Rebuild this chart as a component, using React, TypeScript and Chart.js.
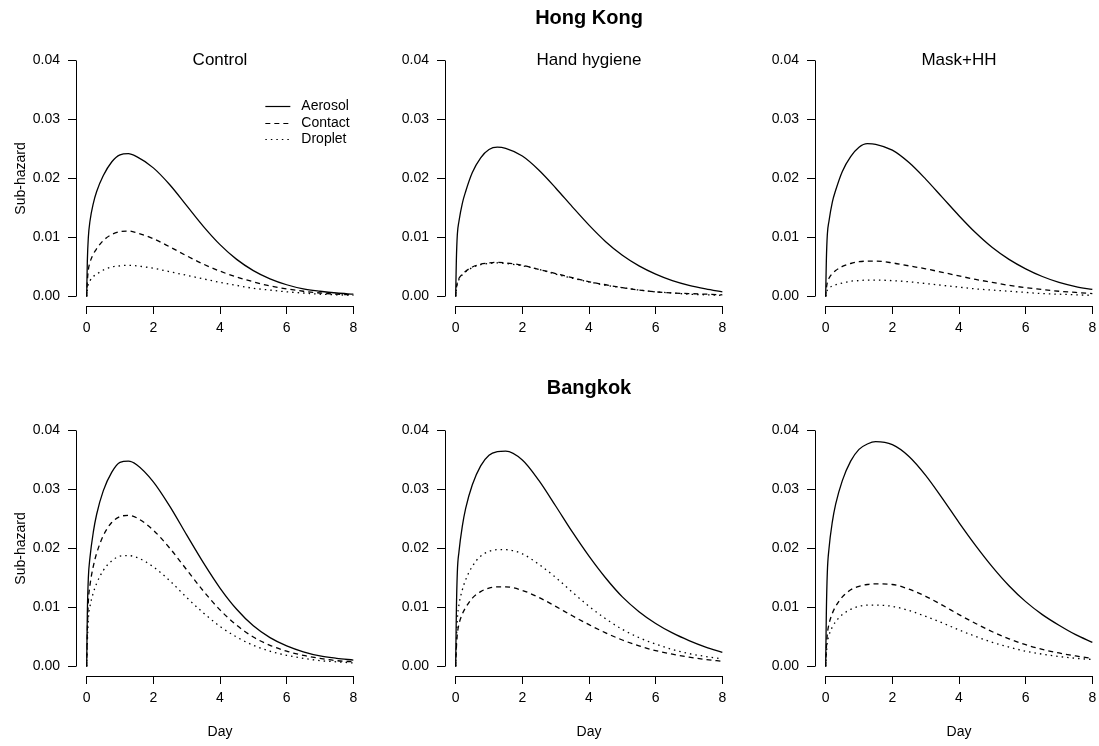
import React, { useEffect, useRef } from "react";
import { Chart, registerables } from "chart.js";

Chart.register(...registerables);

// ---------- data ----------
const days = [0, 0.02, 0.05, 0.1, 0.2, 0.3, 0.5, 0.75, 1, 1.25, 1.5, 2, 2.5, 3, 3.5, 4, 4.5, 5, 5.5, 6, 6.5, 7, 7.5, 8];
const xTicks = [0, 2, 4, 6, 8];
const yTicks = [0, 0.01, 0.02, 0.03, 0.04];
const cities = ["Hong Kong", "Bangkok"];
const arms = ["Control", "Hand hygiene", "Mask+HH"];
const routes = ["Aerosol", "Contact", "Droplet"];

// Hong Kong
const hkControlAerosol = [0, 0.006, 0.01, 0.0128, 0.0158, 0.0178, 0.0205, 0.0228, 0.024, 0.0242, 0.0237, 0.0218, 0.0189, 0.0154, 0.0119, 0.0088, 0.0063, 0.0044, 0.003, 0.002, 0.0013, 0.0009, 0.0006, 0.0004];
const hkControlContact = [0, 0.0025, 0.0045, 0.0058, 0.0072, 0.0081, 0.0095, 0.0105, 0.011, 0.0111, 0.0108, 0.0098, 0.0084, 0.0069, 0.0055, 0.0043, 0.0033, 0.0025, 0.0018, 0.0013, 0.0009, 0.0006, 0.0004, 0.0003];
const hkControlDroplet = [0, 0.0012, 0.0021, 0.0027, 0.0034, 0.0038, 0.0045, 0.005, 0.0052, 0.0053, 0.0052, 0.0048, 0.0042, 0.0036, 0.003, 0.0024, 0.0019, 0.0014, 0.0011, 0.0008, 0.0006, 0.0004, 0.0003, 0.0002];

const hkHandAerosol = [0, 0.006, 0.0105, 0.0128, 0.0158, 0.0178, 0.021, 0.0235, 0.0249, 0.0253, 0.0251, 0.0238, 0.0214, 0.0184, 0.0152, 0.0121, 0.0093, 0.007, 0.0052, 0.0038, 0.0027, 0.0019, 0.0013, 0.0008];
const hkHandContact = [0, 0.0013, 0.0024, 0.0031, 0.0038, 0.0043, 0.005, 0.0055, 0.0057, 0.0058, 0.0057, 0.0053, 0.0046, 0.0039, 0.0032, 0.0025, 0.002, 0.0015, 0.0011, 0.0008, 0.0006, 0.0005, 0.0004, 0.0003];
const hkHandDroplet = [0, 0.0012, 0.0022, 0.0029, 0.0037, 0.0042, 0.0049, 0.0054, 0.0056, 0.0057, 0.0056, 0.0052, 0.0046, 0.0038, 0.0031, 0.0025, 0.0019, 0.0015, 0.0011, 0.0008, 0.0006, 0.0004, 0.0003, 0.0002];

const hkMaskAerosol = [0, 0.006, 0.0105, 0.0128, 0.016, 0.018, 0.0212, 0.0237, 0.0253, 0.0259, 0.0258, 0.0248, 0.0227, 0.0199, 0.0168, 0.0137, 0.0108, 0.0083, 0.0063, 0.0047, 0.0034, 0.0024, 0.0017, 0.0012];
const hkMaskContact = [0, 0.0013, 0.0024, 0.0031, 0.0039, 0.0044, 0.0051, 0.0056, 0.0059, 0.006, 0.006, 0.0057, 0.0052, 0.0047, 0.0041, 0.0035, 0.0029, 0.0024, 0.0019, 0.0015, 0.0012, 0.0009, 0.0007, 0.0005];
const hkMaskDroplet = [0, 0.0006, 0.0011, 0.0014, 0.0018, 0.002, 0.0023, 0.0026, 0.0027, 0.0028, 0.0028, 0.0027, 0.0025, 0.0022, 0.0019, 0.0016, 0.0013, 0.0011, 0.0009, 0.0007, 0.0005, 0.0004, 0.0003, 0.0002];

// Bangkok
const bkControlAerosol = [0, 0.009, 0.015, 0.0185, 0.0228, 0.0258, 0.0298, 0.0329, 0.0346, 0.0348, 0.0342, 0.0313, 0.0271, 0.0223, 0.0176, 0.0133, 0.0097, 0.0069, 0.0049, 0.0035, 0.0025, 0.0018, 0.0014, 0.0011];
const bkControlContact = [0, 0.006, 0.011, 0.0138, 0.017, 0.0192, 0.0222, 0.0244, 0.0254, 0.0256, 0.0252, 0.0231, 0.02, 0.0164, 0.0128, 0.0096, 0.007, 0.005, 0.0036, 0.0026, 0.0019, 0.0014, 0.001, 0.0008];
const bkControlDroplet = [0, 0.004, 0.008, 0.0102, 0.0125, 0.0141, 0.0163, 0.0179, 0.0187, 0.0188, 0.0185, 0.0169, 0.0145, 0.0117, 0.0091, 0.0068, 0.005, 0.0036, 0.0026, 0.0019, 0.0014, 0.001, 0.0008, 0.0006];

const bkHandAerosol = [0, 0.009, 0.016, 0.0195, 0.0238, 0.0268, 0.0308, 0.034, 0.0358, 0.0364, 0.0365, 0.035, 0.0315, 0.0272, 0.0228, 0.0187, 0.015, 0.0118, 0.0093, 0.0073, 0.0057, 0.0044, 0.0033, 0.0024];
const bkHandContact = [0, 0.003, 0.0055, 0.0072, 0.0089, 0.01, 0.0116, 0.0127, 0.0133, 0.0135, 0.0135, 0.0129, 0.0117, 0.0102, 0.0086, 0.0071, 0.0057, 0.0045, 0.0035, 0.0027, 0.0021, 0.0016, 0.0012, 0.0009];
const bkHandDroplet = [0, 0.004, 0.008, 0.0105, 0.013, 0.0147, 0.017, 0.0187, 0.0195, 0.0198, 0.0198, 0.0191, 0.0173, 0.0151, 0.0126, 0.0102, 0.0081, 0.0063, 0.0049, 0.0038, 0.0029, 0.0022, 0.0017, 0.0013];

const bkMaskAerosol = [0, 0.009, 0.016, 0.02, 0.0245, 0.0275, 0.0315, 0.0348, 0.0368, 0.0377, 0.0381, 0.0376, 0.0356, 0.0324, 0.0285, 0.0244, 0.0205, 0.0169, 0.0137, 0.011, 0.0088, 0.007, 0.0054, 0.0041];
const bkMaskContact = [0, 0.003, 0.0055, 0.0072, 0.009, 0.0102, 0.0118, 0.013, 0.0136, 0.0139, 0.014, 0.0139, 0.0131, 0.0119, 0.0104, 0.0088, 0.0073, 0.0059, 0.0047, 0.0037, 0.0029, 0.0023, 0.0018, 0.0014];
const bkMaskDroplet = [0, 0.002, 0.004, 0.0053, 0.0067, 0.0076, 0.0088, 0.0097, 0.0102, 0.0104, 0.0104, 0.0102, 0.0095, 0.0085, 0.0074, 0.0062, 0.0051, 0.0041, 0.0033, 0.0026, 0.0021, 0.0017, 0.0014, 0.0012];

const panelSeries = [
  [
    [hkControlAerosol, hkControlContact, hkControlDroplet],
    [hkHandAerosol, hkHandContact, hkHandDroplet],
    [hkMaskAerosol, hkMaskContact, hkMaskDroplet],
  ],
  [
    [bkControlAerosol, bkControlContact, bkControlDroplet],
    [bkHandAerosol, bkHandContact, bkHandDroplet],
    [bkMaskAerosol, bkMaskContact, bkMaskDroplet],
  ],
];

// ---------- styles ----------
const FONT = '"Liberation Sans", Arial, Helvetica, sans-serif';
const DASHES: number[][] = [[], [5, 4], [1.5, 4]];
const X_MIN = -0.32;
const X_MAX = 8.32;
const Y_MIN = -0.0016;
const Y_MAX = 0.0416;
const COL_LEFT = [0, 369, 739];
const ROW_TOP = [0, 370];
const ROW_H = [366, 376];
const PAD_TOP = 51;
const AREA_H = 255;
const Y_AXIS_W = 76;
const CANVAS_W = 369;

Chart.defaults.font.family = FONT;

const align = (p: number) => Math.round(p - 0.5) + 0.5;

function makePlugin(row: number, col: number) {
  return {
    id: "rstyle" + row + col,
    afterDraw(chart: any) {
      const { ctx, chartArea } = chart;
      const xs = chart.scales.x;
      const ys = chart.scales.y;
      ctx.save();
      ctx.strokeStyle = "#000";
      ctx.fillStyle = "#000";
      ctx.lineWidth = 1;
      ctx.setLineDash([]);
      // y axis line (first to last tick)
      const ax = align(chartArea.left);
      ctx.beginPath();
      ctx.moveTo(ax, ys.getPixelForValue(yTicks[0]));
      ctx.lineTo(ax, ys.getPixelForValue(yTicks[yTicks.length - 1]));
      ctx.stroke();
      // x axis line
      const ay = align(chartArea.bottom);
      ctx.beginPath();
      ctx.moveTo(xs.getPixelForValue(xTicks[0]), ay);
      ctx.lineTo(xs.getPixelForValue(xTicks[xTicks.length - 1]), ay);
      ctx.stroke();

      const cx = (chartArea.left + chartArea.right) / 2;
      const cy = (chartArea.top + chartArea.bottom) / 2;

      // panel title
      if (row === 0) {
        ctx.font = "17px " + FONT;
        ctx.textAlign = "center";
        ctx.textBaseline = "alphabetic";
        ctx.fillText(arms[col], cx, chartArea.top + 14);
      }
      // city title
      if (col === 1) {
        ctx.font = "bold 20px " + FONT;
        ctx.textAlign = "center";
        ctx.textBaseline = "alphabetic";
        ctx.fillText(cities[row], cx, chartArea.top - 27);
      }
      // y label
      if (col === 0) {
        ctx.save();
        ctx.translate(chartArea.left - 55, cy);
        ctx.rotate(-Math.PI / 2);
        ctx.font = "14px " + FONT;
        ctx.textAlign = "center";
        ctx.textBaseline = "middle";
        ctx.fillText("Sub-hazard", 0, 0);
        ctx.restore();
      }
      // x label
      if (row === 1) {
        ctx.font = "14px " + FONT;
        ctx.textAlign = "center";
        ctx.textBaseline = "middle";
        ctx.fillText("Day", cx, chartArea.bottom + 56);
      }
      // legend
      if (row === 0 && col === 0) {
        const lx = xs.getPixelForValue(5);
        const ly = ys.getPixelForValue(0.035);
        ctx.font = "14px " + FONT;
        ctx.textAlign = "left";
        ctx.textBaseline = "middle";
        ctx.lineWidth = 1.2;
        routes.forEach((name, i) => {
          const yy = align(ly + 17 + i * 16.3);
          ctx.setLineDash(DASHES[i]);
          ctx.beginPath();
          ctx.moveTo(lx + 12, yy);
          ctx.lineTo(lx + 37, yy);
          ctx.stroke();
          ctx.setLineDash([]);
          ctx.fillText(name, lx + 48, yy);
        });
      }
      ctx.restore();
    },
  };
}

function Panel({ row, col }: { row: number; col: number }) {
  const ref = useRef<HTMLCanvasElement>(null);
  const height = ROW_H[row];
  useEffect(() => {
    if (!ref.current) return;
    const series = panelSeries[row][col];
    const chart = new Chart(ref.current, {
      type: "line",
      data: {
        datasets: series.map((vals, i) => ({
          label: routes[i],
          data: days.map((d, j) => ({ x: d, y: vals[j] })),
          borderColor: "#000",
          backgroundColor: "#000",
          borderWidth: 1.3,
          borderDash: DASHES[i],
          pointRadius: 0,
          pointHoverRadius: 0,
          cubicInterpolationMode: "monotone",
          fill: false,
        })),
      },
      options: {
        responsive: false,
        animation: false,
        devicePixelRatio: 1,
        events: [],
        layout: { padding: { top: PAD_TOP, right: 5, left: 0, bottom: 0 } },
        plugins: {
          legend: { display: false },
          tooltip: { enabled: false },
          title: { display: false },
        },
        scales: {
          x: {
            type: "linear",
            min: X_MIN,
            max: X_MAX,
            afterBuildTicks: (s: any) => {
              s.ticks = xTicks.map((v) => ({ value: v }));
            },
            afterFit: (s: any) => {
              s.height = height - PAD_TOP - AREA_H;
            },
            ticks: {
              color: "#000",
              font: { size: 14, family: FONT },
              padding: 6,
              maxRotation: 0,
              autoSkip: false,
              callback: (v: any) => String(v),
            },
            grid: {
              display: true,
              drawOnChartArea: false,
              drawTicks: true,
              tickLength: 8,
              color: "#000",
              lineWidth: 1,
            },
            border: { display: false },
          },
          y: {
            type: "linear",
            min: Y_MIN,
            max: Y_MAX,
            afterBuildTicks: (s: any) => {
              s.ticks = yTicks.map((v) => ({ value: v }));
            },
            afterFit: (s: any) => {
              s.width = Y_AXIS_W;
            },
            ticks: {
              color: "#000",
              font: { size: 14, family: FONT },
              padding: 8,
              autoSkip: false,
              callback: (v: any) => Number(v).toFixed(2),
            },
            grid: {
              display: true,
              drawOnChartArea: false,
              drawTicks: true,
              tickLength: 8,
              color: "#000",
              lineWidth: 1,
            },
            border: { display: false },
          },
        },
      },
      plugins: [makePlugin(row, col)],
    } as any);
    return () => chart.destroy();
  }, [row, col, height]);
  return (
    <canvas
      ref={ref}
      width={CANVAS_W}
      height={height}
      style={{ position: "absolute", left: COL_LEFT[col], top: ROW_TOP[row], width: CANVAS_W, height }}
    />
  );
}

export default function App() {
  return (
    <div style={{ position: "absolute", left: 0, top: 0, width: 1099, height: 746, background: "#fff", overflow: "hidden" }}>
      {[0, 1].map((r) => [0, 1, 2].map((c) => <Panel key={r + "-" + c} row={r} col={c} />))}
    </div>
  );
}
